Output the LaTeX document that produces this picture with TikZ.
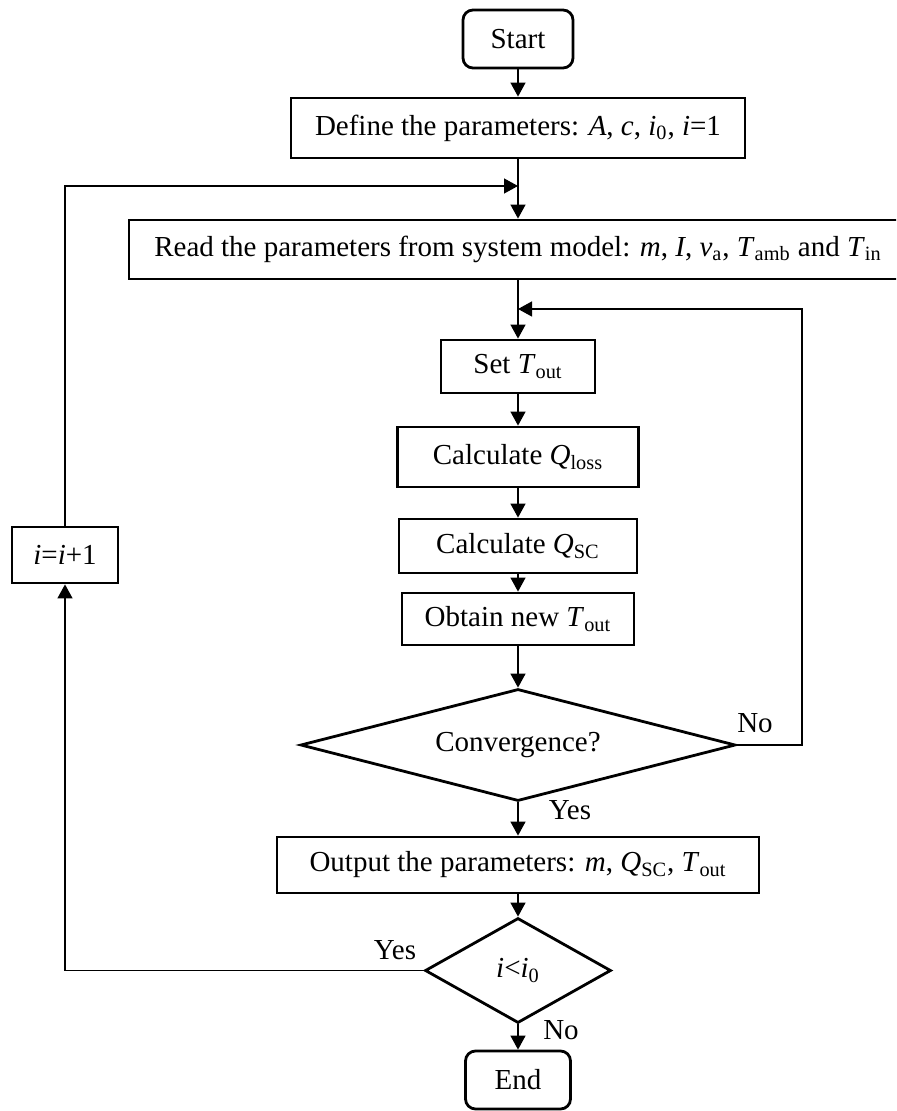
\documentclass[tikz,border=0pt]{standalone}
\usepackage{fontspec}
\setmainfont{Liberation Serif}
\usetikzlibrary{shapes.geometric,arrows.meta}
\newcommand{\vsub}[2]{\textit{#1}\textsubscript{#2}}
\begin{document}
\begin{tikzpicture}[x=0.5pt,y=-0.5pt,
  every node/.style={font=\fontsize{14.5pt}{17pt}\selectfont, inner sep=0pt},
  procbox/.style={draw, line width=1.4pt, rectangle},
  termbox/.style={draw, line width=1.4pt, rectangle, rounded corners=5pt},
  decbox/.style={draw, line width=1.4pt, diamond},
  conn/.style={line width=0.65pt},
  arr/.style={conn, -{Triangle[length=7pt,width=7.5pt]}},
  lbl/.style={}
]
\useasboundingbox (0,0) rectangle (896,1111);
\clip (0,0) rectangle (896,1111);

\node[termbox, minimum width=55pt, minimum height=29pt] (start) at (518,39) {Start};
\node[procbox, minimum width=227pt, minimum height=30pt] (define) at (518,128) {Define the parameters: \textit{A}, \textit{c}, \vsub{i}{0}, \textit{i}=1};
\node[procbox, minimum width=389pt, minimum height=29.5pt] (read) at (518,249.5) {Read the parameters from system model: \textit{m}, \textit{I}, \vsub{v}{a}, \vsub{T}{amb} and \vsub{T}{in}};
\node[procbox, minimum width=77pt, minimum height=26.5pt] (set) at (518,366.5) {Set \vsub{T}{out}};
\node[procbox, minimum width=120.5pt, minimum height=30pt] (qloss) at (518,457) {Calculate \vsub{Q}{loss}};
\node[procbox, minimum width=119pt, minimum height=27pt] (qsc) at (518,546) {Calculate \vsub{Q}{SC}};
\node[procbox, minimum width=116pt, minimum height=26pt] (obtain) at (518,619) {Obtain new \vsub{T}{out}};
\node[decbox, aspect=3.88, minimum width=217.5pt, minimum height=56pt] (conv) at (518,745) {Convergence?};
\node[procbox, minimum width=241pt, minimum height=28pt] (output) at (518,865) {Output the parameters: \textit{m}, \vsub{Q}{SC}, \vsub{T}{out}};
\node[decbox, aspect=1.77, minimum width=93pt, minimum height=52.5pt] (dec) at (518,970.5) {\textit{i}<\vsub{i}{0}};
\node[termbox, minimum width=52.5pt, minimum height=29pt] (end) at (518,1080) {End};
\node[procbox, minimum width=53pt, minimum height=28pt] (inc) at (65,555) {\textit{i}=\textit{i}+1};

\coordinate (j1) at (518,186);
\coordinate (j2) at (518,309);
\coordinate (c2) at (802,309);

\draw[arr] (start) -- (define);
\draw[arr] (define) -- (read);
\draw[arr] (read) -- (set);
\draw[arr] (set) -- (qloss);
\draw[arr] (qloss) -- (qsc);
\draw[arr] (qsc) -- (obtain);
\draw[arr] (obtain) -- (conv);
\draw[arr] (conv) -- (output);
\draw[arr] (output) -- (dec);
\draw[arr] (dec) -- (end);
\draw[arr] (conv.east) -| (c2) -- (j2);
\draw[arr] (dec.west) -| (inc.south);
\draw[arr] (inc.north) |- (j1);

\node[lbl] (lno1) at (755,723) {No};
\node[lbl] (lyes1) at (570,810) {Yes};
\node[lbl] (lyes2) at (395,950) {Yes};
\node[lbl] (lno2) at (561,1030) {No};
\end{tikzpicture}
\end{document}
